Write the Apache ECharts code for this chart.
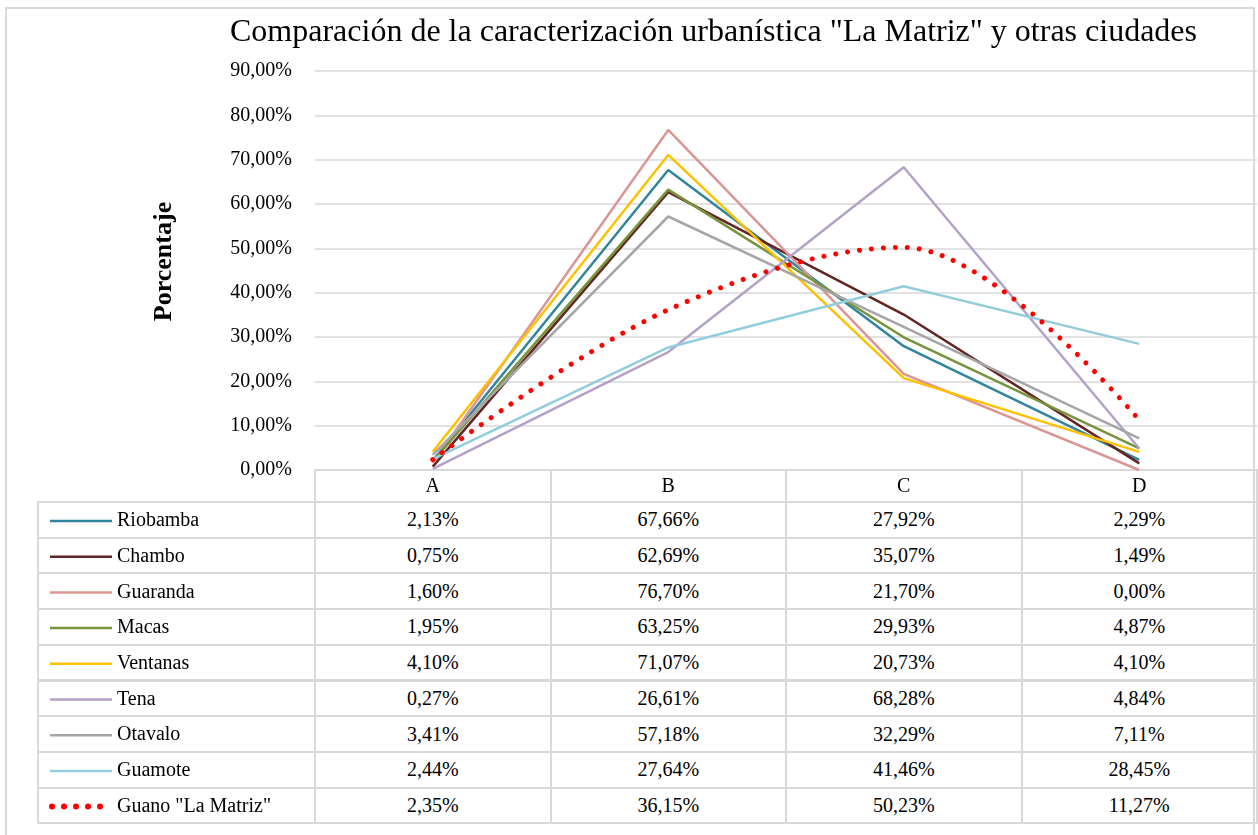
<!DOCTYPE html>
<html>
<head>
<meta charset="utf-8">
<script src="https://cdn.jsdelivr.net/npm/echarts@6/dist/echarts.min.js"></script>
<style>
  html, body { margin: 0; padding: 0; background: #fff; }
  #wrap { position: relative; width: 1258px; height: 835px; overflow: hidden; }
  #frame { position: absolute; left: 5px; top: 7px; width: 1250px; height: 840px; border: 2px solid #d9d9d9; box-sizing: border-box; }
  #table { position: absolute; left: 0; top: 0; width: 1258px; height: 835px; }
  #chart { position: absolute; left: 0; top: 0; width: 1258px; height: 835px; }
  .cell { position: absolute; box-sizing: border-box; border: 2px solid #d9d9d9; margin: -1px 0 0 -1px;
          font-family: "Liberation Serif", "Times New Roman", serif; font-size: 20px; color: #000;
          display: flex; align-items: center; justify-content: center; }
</style>
</head>
<body>
<div id="wrap">
  <div id="frame"></div>
  <div id="table"></div>
  <div id="chart"></div>
</div>
<script>
var categories = ["A", "B", "C", "D"];
var seriesNames = ["Riobamba", "Chambo", "Guaranda", "Macas", "Ventanas", "Tena", "Otavalo", "Guamote", "Guano \"La Matriz\""];
var riobamba = [2.13, 67.66, 27.92, 2.29];
var chambo = [0.75, 62.69, 35.07, 1.49];
var guaranda = [1.60, 76.70, 21.70, 0.00];
var macas = [1.95, 63.25, 29.93, 4.87];
var ventanas = [4.10, 71.07, 20.73, 4.10];
var tena = [0.27, 26.61, 68.28, 4.84];
var otavalo = [3.41, 57.18, 32.29, 7.11];
var guamote = [2.44, 27.64, 41.46, 28.45];
var guano = [2.35, 36.15, 50.23, 11.27];
var seriesData = [riobamba, chambo, guaranda, macas, ventanas, tena, otavalo, guamote, guano];
var colors = ["#31859c", "#632523", "#d99694", "#77933c", "#ffc000", "#b3a2c7", "#a6a6a6", "#93cddd", "#ff0000"];

function pct(v) {
  return v.toFixed(2).replace(".", ",") + "%";
}

// data table (Excel style) under the plot
var plotLeft = 315, plotRight = 1257, plotTop = 71, plotBottom = 470;
var tableLeft = 38, headerBottom = 502, rowH = 35.7;
var colW = (plotRight - plotLeft) / categories.length;
var tbl = document.getElementById("table");

function addCell(x, y, w, h, text) {
  var d = document.createElement("div");
  d.className = "cell";
  d.style.left = x + "px";
  d.style.top = y + "px";
  d.style.width = (w + 2) + "px";
  d.style.height = (h + 2) + "px";
  d.textContent = text;
  tbl.appendChild(d);
}

categories.forEach(function (c, j) {
  addCell(plotLeft + j * colW, plotBottom, colW, headerBottom - plotBottom, "");
});
seriesNames.forEach(function (name, i) {
  var y = headerBottom + i * rowH;
  addCell(tableLeft, y, plotLeft - tableLeft, rowH, "");
  seriesData[i].forEach(function (v, j) {
    addCell(plotLeft + j * colW, y, colW, rowH, pct(v));
  });
});

var chart = echarts.init(document.getElementById("chart"));

var dotted = { width: 5, type: [0.01, 12], cap: "round" };

var series = seriesNames.map(function (name, i) {
  var isGuano = i === seriesNames.length - 1;
  return {
    name: name,
    type: "line",
    data: seriesData[i],
    symbol: "none",
    smooth: isGuano ? 0.35 : false,
    z: isGuano ? 5 : 2,
    lineStyle: isGuano
      ? { color: colors[i], width: dotted.width, type: dotted.type, cap: dotted.cap }
      : { color: colors[i], width: 2.5 },
    itemStyle: { color: colors[i] }
  };
});

var legendData = seriesNames.map(function (name, i) {
  var isGuano = i === seriesNames.length - 1;
  return {
    name: name,
    itemStyle: { color: "transparent", borderWidth: 0, opacity: 0 },
    lineStyle: isGuano
      ? { color: colors[i], width: 6, type: dotted.type, cap: dotted.cap, dashOffset: -2 }
      : { color: colors[i], width: 2.5 }
  };
});

chart.setOption({
  color: colors,
  animation: false,
  textStyle: { fontFamily: "Liberation Serif, Times New Roman, serif" },
  title: {
    text: "Comparación de la caracterización urbanística \"La Matriz\" y otras ciudades",
    left: 225,
    top: 12,
    textStyle: { fontSize: 32, fontWeight: "normal", color: "#000", fontFamily: "Liberation Serif" }
  },
  legend: {
    orient: "vertical",
    left: 42,
    top: 506,
    itemWidth: 62,
    itemHeight: 14,
    itemGap: 15.7,
    data: legendData,
    textStyle: { fontSize: 20, lineHeight: 20, color: "#000", fontFamily: "Liberation Serif" }
  },
  grid: {
    left: plotLeft,
    right: 1258 - plotRight,
    top: plotTop,
    bottom: 835 - plotBottom
  },
  xAxis: {
    type: "category",
    data: categories,
    boundaryGap: true,
    axisLine: { show: true, lineStyle: { color: "#d9d9d9", width: 2 } },
    axisTick: { show: false },
    axisLabel: { color: "#000", fontSize: 20, margin: 7, fontFamily: "Liberation Serif" }
  },
  yAxis: {
    type: "value",
    min: 0,
    max: 90,
    interval: 10,
    name: "Porcentaje",
    nameLocation: "middle",
    nameRotate: 90,
    nameGap: 138,
    nameTextStyle: { fontSize: 26, fontWeight: "bold", color: "#000", fontFamily: "Liberation Serif", padding: [0, 0, 0, 18] },
    axisLine: { show: false },
    axisTick: { show: false },
    axisLabel: { color: "#000", fontSize: 20, margin: 23, formatter: pct, fontFamily: "Liberation Serif" },
    splitLine: { lineStyle: { color: "#d9d9d9", width: 1.5 } }
  },
  series: series
});
</script>
</body>
</html>
